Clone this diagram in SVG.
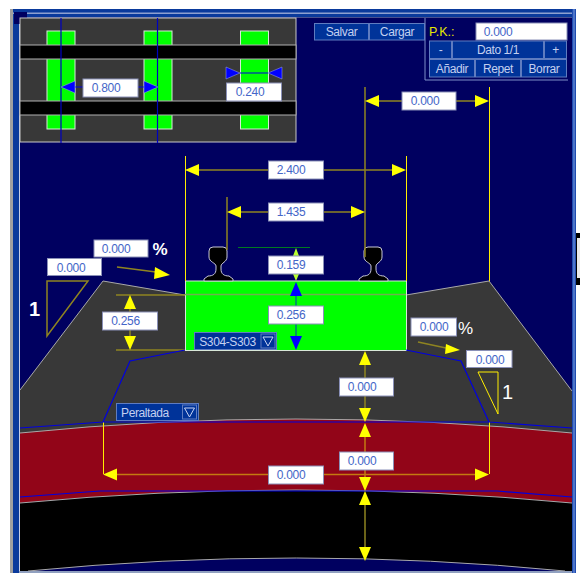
<svg xmlns="http://www.w3.org/2000/svg" width="580" height="573" viewBox="0 0 580 573">
<style>
text{font-family:"Liberation Sans",Arial,sans-serif}
.lb rect{fill:#fff;stroke:#8a90b8;stroke-width:1}
.lb text{fill:#4466c8;font-size:12px;letter-spacing:-.3px;text-anchor:middle}
.bt rect{fill:#003399;stroke:#5f7cc0;stroke-width:1}
.bt text{fill:#c4d0f0;font-size:12px;letter-spacing:-.4px;text-anchor:middle}
.ol{stroke:#8f8420;stroke-width:1.5;fill:none}
.or{stroke:#c47a10;stroke-width:1.5;fill:none}
.ye{stroke:#ffee00;stroke-width:1;fill:none}
.bl{stroke:#0000e0;stroke-width:1.2;fill:none}
.edge{stroke:#a8a8a8;stroke-width:1;fill:none}
</style>
<defs>
<polygon id="yu" points="0,0 -6,14 6,14" fill="#ffff00"/>
<polygon id="yd" points="0,0 -6,-14 6,-14" fill="#ffff00"/>
<polygon id="yl" points="0,0 14,-6 14,6" fill="#ffff00"/>
<polygon id="yr" points="0,0 -14,-6 -14,6" fill="#ffff00"/>
<polygon id="bu" points="0,0 -6,14 6,14" fill="#0000ff"/>
<polygon id="bd" points="0,0 -6,-14 6,-14" fill="#0000ff"/>
<polygon id="bl" points="0,0 14,-6 14,6" fill="#0000ff" stroke="#a0a8e8" stroke-width=".5"/>
<polygon id="br" points="0,0 -14,-6 -14,6" fill="#0000ff" stroke="#a0a8e8" stroke-width=".5"/>
<path id="rail" d="M0,34 V32 L4,29 C9,29 12,27 12,22 V19 C12,16 5,15 5,10 V4 Q5,0 9,0 H19 Q23,0 23,4 V10 C23,15 17,16 17,19 V22 C17,27 20,29 25,29 L29,32 V34 Z" fill="#000" stroke="#c8c8d8" stroke-width="1"/>
</defs>
<rect width="580" height="573" fill="#fff"/>
<g id="frame">
<rect x="10" y="9" width="566" height="564" fill="#90a0c0"/>
<rect x="10" y="9" width="3" height="564" fill="#a0a0a0"/>
<rect x="13" y="9" width="6" height="564" fill="#0a3a9c"/>
<rect x="13" y="9" width="563" height="8" fill="#0a3a9c"/>
<rect x="13" y="12.500" width="563" height="1.500" fill="#8ea0d0"/>
<rect x="572" y="9" width="4" height="564" fill="#1f4cb0"/>
<rect x="573.500" y="9" width="1" height="564" fill="#7f9ee0"/>
<rect x="19.500" y="17.500" width="552.500" height="553.500" fill="#000060"/>
<path d="M19.500,17.500V571" stroke="#c8d0e8" stroke-width="1" fill="none"/>
<rect x="14" y="12" width="13" height="12" fill="#000060"/>
<rect x="576" y="233" width="4" height="52" fill="#000"/>
<rect x="577" y="238" width="3" height="40" fill="#e8e8e8"/>
</g>
<g id="ground">
<path id="ballast" d="M20,390 L103,281 L185,295 H406 L489,281 L572,391 V434 H20 Z" fill="#383838"/>
<path d="M20,390 L103,281 L185,295 M406,295 L489,281 L572,391" class="edge"/>
<path id="subgrade" d="M20,433 Q296,405 572,433 V503 Q296,477 20,503 Z" fill="#920518"/>
<path d="M20,433 Q296,405 572,433" class="edge"/>
<path id="base" d="M20,503 Q296,477 572,503 V571 H565 Q296,545 28,571 H20 Z" fill="#000"/>
<path d="M20,503 Q296,477 572,503 M28,571 Q296,545 565,571" class="edge"/>
</g>
<g id="sleeper">
<rect x="185.500" y="281" width="221" height="69.500" fill="#00ff00" stroke="#d8e8d8" stroke-width="1"/>
<use href="#rail" x="204" y="247"/>
<use href="#rail" x="359" y="247"/>
</g>
<g id="connectors">
<path class="ye" d="M185.500,156V281M406.500,156V281M489.500,87V281M103.500,422V474M489.500,422V474"/>
<path class="ol" d="M365,87V257M227,197V250"/>
<path class="ol" d="M379,101H402M456,101H475M199,170H268M323,170H393M241,212H268M323,212H351"/>
<path class="ol" d="M116,295H185M116,350H185M130,309V312M130,330V337"/>
<path d="M185,294.500H406" stroke="#70b050" stroke-width="1.500" fill="none"/>
<path d="M238,247.500H310" stroke="#007a20" stroke-width="1" fill="none"/>
<path d="M296,295V306M296,324V337" stroke="#007a80" stroke-width="1.500" fill="none"/>
<path class="ol" d="M365,364V378M365,396V408M365,505V547"/>
<path class="or" d="M117,474.500H268M323,474.500H475M365,436V452M365,470V478"/>
<path class="bl" d="M20,428L103,422H489L572,428M185,350L130,361L103,422M406,350L461,361L489,422M20,497L100,491H497L572,497"/>
<path class="ol" d="M117,267L156,272M418,342L446,348"/>
<path class="ol" d="M47,336V281H88Z" stroke-width="1"/>
<path class="ye" d="M478,372H498V414Z"/>
<use href="#yl" x="365" y="101"/><use href="#yr" x="489" y="101"/>
<use href="#yl" x="185" y="170"/><use href="#yr" x="406" y="170"/>
<use href="#yl" x="227" y="212"/><use href="#yr" x="365" y="212"/>
<polygon points="296,248 293,256 299,256" fill="#b8ff30"/><polygon points="296,281 293,274 299,274" fill="#b8ff30"/>
<use href="#bu" x="296" y="282"/><use href="#bd" x="296" y="350"/>
<use href="#yu" x="130" y="295"/><use href="#yd" x="130" y="350"/>
<use href="#yu" x="365" y="351"/><use href="#yd" x="365" y="422"/>
<use href="#yu" x="365" y="423"/><use href="#yd" x="365" y="491"/>
<use href="#yu" x="365" y="491"/><use href="#yd" x="365" y="561"/>
<use href="#yl" x="103" y="474.500"/><use href="#yr" x="489" y="474.500"/>
<polygon points="170,275 155,267 154,279" fill="#ff0"/>
<polygon points="460,350 446,344 445,354" fill="#ff0"/>
</g>
<g id="inset">
<rect x="20" y="18" width="276" height="124" fill="#383838" stroke="#c8c8c8" stroke-width="1"/>
<g fill="#00ff00" stroke="#d8e8d8" stroke-width="1">
<rect x="47" y="31" width="28" height="98"/><rect x="144" y="31" width="28" height="98"/><rect x="240.500" y="31" width="28" height="98"/>
</g>
<g fill="#000" stroke="#b0b0b0" stroke-width="1">
<rect x="20" y="45" width="276" height="14"/><rect x="20" y="101" width="276" height="14"/>
</g>
<path d="M61,18V143M157.500,18V143" stroke="#0000c0" stroke-width="1.200" fill="none"/>
<path d="M75,87H83M138,87H144M240,73H268" stroke="#0000e0" stroke-width="1.200" fill="none"/>
<use href="#bl" x="61" y="87"/><use href="#br" x="158" y="87"/>
<use href="#br" x="240" y="73"/><use href="#bl" x="268" y="73"/>
</g>
<g id="lb-800" class="lb"><rect x="83" y="79" width="55" height="18"/><text x="106" y="92">0.800</text></g>
<g id="lb-240" class="lb"><rect x="226.500" y="83" width="55" height="18"/><text x="250" y="96">0.240</text></g>
<g id="lb-top" class="lb"><rect x="402" y="92" width="54" height="18"/><text x="425" y="105">0.000</text></g>
<g id="lb-2400" class="lb"><rect x="268.500" y="161" width="55" height="18"/><text x="291" y="174">2.400</text></g>
<g id="lb-1435" class="lb"><rect x="268.500" y="203" width="55" height="18"/><text x="291" y="216">1.435</text></g>
<g id="lb-159" class="lb"><rect x="268.500" y="256" width="55" height="18"/><text x="291" y="269">0.159</text></g>
<g id="lb-256b" class="lb"><rect x="268.500" y="306" width="55" height="18"/><text x="291" y="319">0.256</text></g>
<g id="lb-256a" class="lb"><rect x="102.500" y="312" width="55" height="18"/><text x="125.500" y="325">0.256</text></g>
<g id="lb-pctl" class="lb"><rect x="94" y="240" width="54" height="17"/><text x="116" y="253">0.000</text></g>
<g id="lb-slopel" class="lb"><rect x="47.500" y="258.500" width="54" height="17"/><text x="71" y="271.500">0.000</text></g>
<g id="lb-pctr" class="lb"><rect x="411" y="318" width="45.500" height="18"/><text x="434" y="331">0.000</text></g>
<g id="lb-sloper" class="lb"><rect x="466.500" y="350.500" width="45.500" height="17"/><text x="490" y="363.500">0.000</text></g>
<g id="lb-h1" class="lb"><rect x="339.500" y="378" width="54" height="18"/><text x="362" y="391">0.000</text></g>
<g id="lb-h2" class="lb"><rect x="339.500" y="452" width="54" height="18"/><text x="362" y="465">0.000</text></g>
<g id="lb-w" class="lb"><rect x="268.500" y="466" width="55" height="18"/><text x="291" y="479">0.000</text></g>
<text x="152.500" y="255" fill="#fff" font-weight="bold" font-size="17">%</text>
<text x="458" y="334" fill="#fff" font-size="17">%</text>
<text x="29" y="316" fill="#fff" font-size="20" font-weight="bold">1</text>
<text x="502" y="399" fill="#fff" font-size="20">1</text>
<g id="dd-sleeper" class="bt"><rect x="194.500" y="332.500" width="82" height="17"/><text x="227.500" y="345.500">S304-S303</text><rect x="261" y="334" width="14" height="14" fill="#000060"/><path d="M263,337H273L268,346Z" fill="none" stroke="#c9d4f2" stroke-width="1"/></g>
<g id="dd-perfil" class="bt"><rect x="116.500" y="403.500" width="82" height="17"/><text x="145" y="416.500">Peraltada</text><rect x="182.500" y="405" width="14" height="14" fill="#000060"/><path d="M184.500,408H194.500L189.500,417Z" fill="none" stroke="#c9d4f2" stroke-width="1"/></g>
<g id="controls">
<path d="M425,18V80H568" fill="#000060" stroke="#7f8fc8" stroke-width="1"/>
<g class="bt"><rect x="314.500" y="23.500" width="54" height="16.500"/><text x="341.500" y="36">Salvar</text></g>
<g class="bt"><rect x="369.500" y="23.500" width="55" height="16.500"/><text x="397" y="36">Cargar</text></g>
<text x="429" y="36" fill="#e8e800" font-size="12.500">P.K.:</text>
<g class="lb"><rect x="476" y="23" width="91" height="17" stroke="none"/><text x="498" y="36">0.000</text></g>
<g class="bt"><rect x="429.500" y="41" width="22" height="17.500"/><text x="440.500" y="54">-</text></g>
<g class="bt"><rect x="452.500" y="41" width="91" height="17.500"/><text x="498" y="54">Dato 1/1</text></g>
<g class="bt"><rect x="544.500" y="41" width="22" height="17.500"/><text x="555.500" y="54">+</text></g>
<g class="bt"><rect x="429.500" y="59.500" width="45" height="17.500"/><text x="452" y="73">Añadir</text></g>
<g class="bt"><rect x="475.500" y="59.500" width="45" height="17.500"/><text x="498" y="73">Repet</text></g>
<g class="bt"><rect x="521.500" y="59.500" width="45" height="17.500"/><text x="544" y="73">Borrar</text></g>
</g>
</svg>
